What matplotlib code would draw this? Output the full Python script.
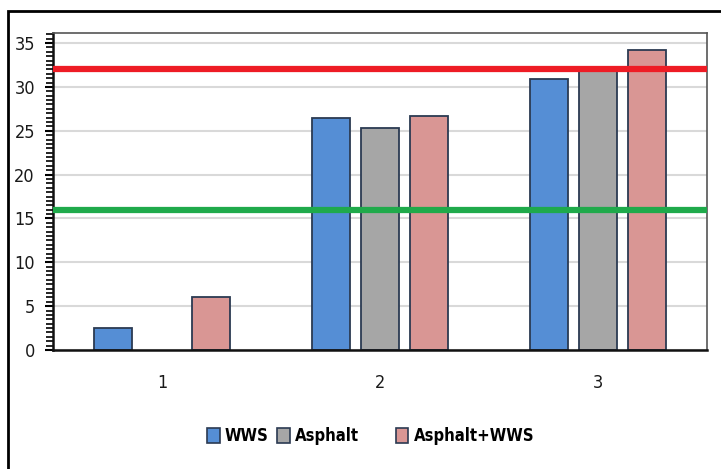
import matplotlib.pyplot as plt
import numpy as np
from matplotlib.patches import Patch, Rectangle
from matplotlib.ticker import MultipleLocator

categories = ["1", "2", "3"]
wws = [2.5, 26.5, 30.9]
asphalt = [0, 25.3, 32.0]
asphalt_wws = [6.0, 26.7, 34.2]
upper_limit = 32
lower_limit = 16

series = [("WWS", wws, "#558ED5"),
          ("Asphalt", asphalt, "#A6A6A6"),
          ("Asphalt+WWS", asphalt_wws, "#D99694")]

plt.rcParams["font.family"] = ["DejaVu Sans"]
plt.rcParams["font.stretch"] = "condensed"

fig = plt.figure(figsize=(7.21, 4.69), dpi=100)
ax = fig.add_axes([53 / 721, 119 / 469, 654 / 721, 317 / 469])

x = np.arange(len(categories))
width = 0.175
step = 0.225
for i, (name, vals, color) in enumerate(series):
    v = np.array(vals, dtype=float)
    pos = x + (i - 1) * step
    keep = v > 0
    ax.bar(pos[keep], v[keep], width, color=color, edgecolor="#2B3A52",
           linewidth=1.3, label=name, zorder=2)

ax.axhline(upper_limit, color="#EE1C25", linewidth=4.5, zorder=3)
ax.axhline(lower_limit, color="#1FAA4B", linewidth=4.5, zorder=3)

ax.set_xlim(-0.5, 2.5)
ax.set_ylim(0, 36.15)
ax.set_xticks(x)
ax.set_xticklabels(categories)
ax.yaxis.set_major_locator(MultipleLocator(5))
ax.yaxis.set_minor_locator(MultipleLocator(0.5))
ax.grid(axis="y", color="#D9D9D9", linewidth=1.5, zorder=0)
ax.set_axisbelow(True)

ax.tick_params(axis="x", length=0, pad=17, labelsize=13, labelcolor="#1a1a1a")
ax.tick_params(axis="y", which="major", length=6, width=1.5, pad=7,
               labelsize=13, labelcolor="#1a1a1a")
ax.tick_params(axis="y", which="minor", length=5, width=1.2)
for side in ("top", "right"):
    ax.spines[side].set_color("#555555")
    ax.spines[side].set_linewidth(1.2)
for side in ("left", "bottom"):
    ax.spines[side].set_color("#111111")
    ax.spines[side].set_linewidth(1.8)

# legend split in two pieces like the original
handles = [Patch(facecolor=c, edgecolor="#2B3A52", linewidth=1.2, label=n)
           for n, _, c in series]
leg_kw = dict(frameon=False, handlelength=0.75, handleheight=1.05,
              handletextpad=0.3, columnspacing=0.5, borderpad=0,
              prop={"size": 12, "weight": "bold", "stretch": "condensed"})
fig.legend(handles=handles[:2], ncol=2, loc="center",
           bbox_to_anchor=(283 / 721, 1 - 436 / 469), **leg_kw)
fig.legend(handles=handles[2:], ncol=1, loc="center",
           bbox_to_anchor=(465 / 721, 1 - 436 / 469), **leg_kw)

# outer chart border (runs off the right and bottom edges)
fig.patches.append(Rectangle((8 / 721, -0.2), 1.5, 1.2 - 11 / 469,
                             transform=fig.transFigure, fill=False,
                             edgecolor="black", linewidth=2))

fig.savefig("out.png", dpi=100)
